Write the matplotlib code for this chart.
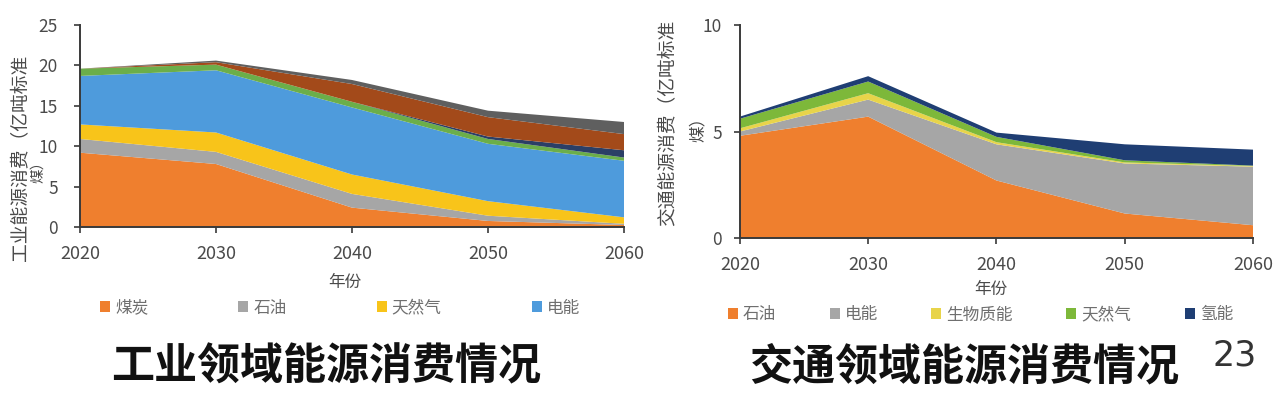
import matplotlib
matplotlib.use("Agg")
import matplotlib.pyplot as plt
import numpy as np

plt.rcParams['font.family'] = ['Noto Sans CJK SC', 'DejaVu Sans']

years = [2020, 2030, 2040, 2050, 2060]

# 工业领域 (亿吨标准煤)
ind_names = ['煤炭', '石油', '天然气', '电能', '生物质能', '氢能', '其他1', '其他2']
ind_coal = [9.2, 7.8, 2.4, 0.75, 0.25]
ind_oil = [1.7, 1.5, 1.7, 0.65, 0.15]
ind_gas = [1.8, 2.4, 2.4, 1.8, 0.8]
ind_elec = [6.0, 7.7, 8.3, 7.1, 7.0]
ind_bio = [0.9, 0.7, 0.7, 0.6, 0.4]
ind_h2 = [0.0, 0.0, 0.0, 0.3, 0.9]
ind_other1 = [0.0, 0.3, 2.2, 2.4, 2.0]
ind_other2 = [0.0, 0.2, 0.5, 0.8, 1.5]
ind_colors = ['#EF7F2E', '#A6A6A6', '#F8C41A', '#4E9BDC', '#6BAE4A', '#2B3F66', '#A34A1A', '#5F5F5F']

# 交通领域 (亿吨标准煤)
tr_names = ['石油', '电能', '生物质能', '天然气', '氢能']
tr_oil = [4.8, 5.7, 2.7, 1.15, 0.6]
tr_elec = [0.2, 0.8, 1.7, 2.35, 2.75]
tr_bio = [0.15, 0.3, 0.1, 0.05, 0.03]
tr_gas = [0.45, 0.55, 0.25, 0.1, 0.02]
tr_h2 = [0.1, 0.25, 0.2, 0.75, 0.75]
tr_colors = ['#EF7F2E', '#A6A6A6', '#E8D44A', '#7DB83A', '#1F3E73']

fig = plt.figure(figsize=(12.8, 3.98), dpi=100)

def style_axes(ax, yticks, ypad):
    for s in ['top', 'right']:
        ax.spines[s].set_visible(False)
    for s in ['left', 'bottom']:
        ax.spines[s].set_color('#3a3a3a')
        ax.spines[s].set_linewidth(1.4)
    ax.set_xlim(2020, 2060)
    ax.set_xticks(years)
    ax.set_yticks(yticks)
    ax.tick_params(axis='x', direction='out', length=4, width=1.2, color='#3a3a3a',
                   labelsize=13, labelcolor='#4a4a4a', pad=9)
    ax.tick_params(axis='y', direction='out', length=4, width=1.2, color='#3a3a3a',
                   labelsize=12.5, labelcolor='#4a4a4a', pad=ypad)

# 左图
ax1 = fig.add_axes([0.0625, 0.4296, 0.425, 0.5075])
p1 = ax1.stackplot(years, ind_coal, ind_oil, ind_gas, ind_elec, ind_bio, ind_h2,
                   ind_other1, ind_other2, colors=ind_colors, linewidth=0)
ax1.set_ylim(0, 25)
style_axes(ax1, [0, 5, 10, 15, 20, 25], 12)
ax1.legend(p1[:4], ind_names[:4], loc='center', ncol=4, mode='expand',
           bbox_to_anchor=(85 / 1280, 1 - 323 / 398, 510 / 1280, 30 / 398),
           bbox_transform=fig.transFigure, frameon=False, fontsize=12,
           labelcolor='#6f6f6f', handlelength=0.6, handleheight=0.6, handletextpad=0.3)

fig.text(21 / 1280, 1 - 158 / 398, '工业能源消费（亿吨标准', rotation=90, fontsize=13.5,
         color='#4a4a4a', ha='center', va='center')
fig.text(38 / 1280, 1 - 168 / 398, '煤）', rotation=90, fontsize=10.5,
         color='#4a4a4a', ha='center', va='center')
fig.text(345 / 1280, 1 - 282 / 398, '年份', fontsize=12, color='#4a4a4a', ha='center', va='center')

# 右图
ax2 = fig.add_axes([0.578, 0.402, 0.401, 0.535])
p2 = ax2.stackplot(years, tr_oil, tr_elec, tr_bio, tr_gas, tr_h2,
                   colors=tr_colors, linewidth=0)
ax2.set_ylim(0, 10)
style_axes(ax2, [0, 5, 10], 9)
ax2.legend(p2, tr_names, loc='center', ncol=5, mode='expand',
           bbox_to_anchor=(713 / 1280, 1 - 330 / 398, 535 / 1280, 30 / 398),
           bbox_transform=fig.transFigure, frameon=False, fontsize=12,
           labelcolor='#6f6f6f', handlelength=0.6, handleheight=0.6, handletextpad=0.3)

fig.text(668 / 1280, 1 - 123 / 398, '交通能源消费（亿吨标准', rotation=90, fontsize=13.5,
         color='#4a4a4a', ha='center', va='center')
fig.text(698 / 1280, 1 - 125 / 398, '煤）', rotation=90, fontsize=12,
         color='#4a4a4a', ha='center', va='center')
fig.text(991 / 1280, 1 - 289 / 398, '年份', fontsize=12, color='#4a4a4a', ha='center', va='center')

# 标题
fig.text(326 / 1280, 1 - 366 / 398, '工业领域能源消费情况', fontsize=31, fontweight='heavy',
         color='#111111', ha='center', va='center')
fig.text(964 / 1280, 1 - 366 / 398, '交通领域能源消费情况', fontsize=31, fontweight='heavy',
         color='#111111', ha='center', va='center')
fig.text(1235 / 1280, 1 - 355 / 398, '23', fontsize=25, color='#333333',
         ha='center', va='center', family='DejaVu Sans')

fig.savefig('out.png', dpi=100)
